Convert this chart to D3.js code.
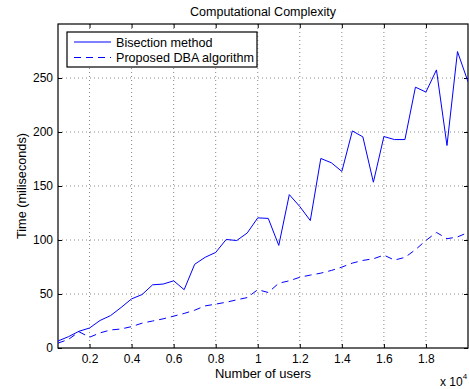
<!DOCTYPE html>
<html>
<head>
<meta charset="utf-8">
<script src="https://cdn.jsdelivr.net/npm/d3@7"></script>
<style>
  body { margin: 0; background: #fff; }
  text { font-family: "Liberation Sans", Arial, sans-serif; fill: #000; }
</style>
</head>
<body>
<script>
// number of users (x values)
var users = [500, 1000, 1500, 2000, 2500, 3000, 3500, 4000, 4500, 5000,
             5500, 6000, 6500, 7000, 7500, 8000, 8500, 9000, 9500, 10000,
             10500, 11000, 11500, 12000, 12500, 13000, 13500, 14000, 14500, 15000,
             15500, 16000, 16500, 17000, 17500, 18000, 18500, 19000, 19500, 20000];

// time in milliseconds
var bisection = [6.5, 10.5, 15.5, 18.5, 25.5, 30, 37.5, 45.5, 49.5, 58.5,
                 59.2, 62.2, 54, 77.5, 84, 88.5, 100.5, 99.5, 106.5, 120.5,
                 120, 95, 142, 131, 118, 175.5, 171.5, 163.5, 201, 195.5,
                 153.5, 195.8, 193, 193, 241.5, 237, 257.5, 187.5, 274.5, 246.5];

var dba = [4.5, 8, 15, 10, 14, 16.7, 17.6, 19.8, 23, 25,
           27, 29.5, 32, 35, 39, 40.6, 42.4, 44.6, 46.7, 54,
           51.4, 60, 62.2, 65.5, 67.5, 69.3, 71.8, 74.9, 78.6, 81.1,
           82.6, 86, 81.4, 83.9, 91, 99.6, 107, 101.2, 102.8, 107];

var xTicks = [2000, 4000, 6000, 8000, 10000, 12000, 14000, 16000, 18000];
var yTicks = [0, 50, 100, 150, 200, 250];

var seriesNames = ["Bisection method", "Proposed DBA algorithm"];

var W = 469, H = 389;
var margin = {top: 24, right: 1, bottom: 41, left: 58},
    width = W - margin.left - margin.right,
    height = H - margin.top - margin.bottom;

var svg = d3.select("body").append("svg")
    .attr("width", W)
    .attr("height", H);

var x = d3.scaleLinear().domain([500, 20000]).range([0, width]),
    y = d3.scaleLinear().domain([0, 300]).range([height, 0]);

var g = svg.append("g")
    .attr("transform", "translate(" + margin.left + "," + margin.top + ")");

// dotted grid
g.selectAll(".gx").data(xTicks).enter().append("line")
    .attr("x1", d => x(d)).attr("x2", d => x(d))
    .attr("y1", 0).attr("y2", height)
    .attr("stroke", "#888").attr("stroke-width", 1)
    .attr("stroke-dasharray", "1,3");

g.selectAll(".gy").data(yTicks.slice(1)).enter().append("line")
    .attr("y1", d => y(d)).attr("y2", d => y(d))
    .attr("x1", 0).attr("x2", width)
    .attr("stroke", "#888").attr("stroke-width", 1)
    .attr("stroke-dasharray", "1,3");

// axes (ticks point inward, box all round)
var fmtX = d => d3.format("")(d / 10000);

var axB = g.append("g").attr("transform", "translate(0," + height + ")")
    .call(d3.axisBottom(x).tickValues(xTicks).tickSizeInner(-4).tickSizeOuter(0).tickPadding(6).tickFormat(fmtX));
var axL = g.append("g")
    .call(d3.axisLeft(y).tickValues(yTicks).tickSizeInner(-4).tickSizeOuter(0).tickPadding(5));
var axT = g.append("g")
    .call(d3.axisTop(x).tickValues(xTicks).tickSizeInner(-4).tickSizeOuter(0).tickFormat(""));
var axR = g.append("g").attr("transform", "translate(" + width + ",0)")
    .call(d3.axisRight(y).tickValues(yTicks).tickSizeInner(-4).tickSizeOuter(0).tickFormat(""));

[axB, axL, axT, axR].forEach(function(a) {
  a.select(".domain").remove();
  a.selectAll("line").attr("stroke", "#000");
  a.selectAll("text").style("font-size", "12px").style("font-family", "'Liberation Sans', Arial, sans-serif").attr("fill", "#000");
});

g.append("rect")
    .attr("x", 0).attr("y", 0).attr("width", width).attr("height", height)
    .attr("fill", "none").attr("stroke", "#000").attr("stroke-width", 1.2);

// lines
var line = d3.line()
    .x(function(d, i) { return x(users[i]); })
    .y(function(d) { return y(d); });

var clip = g.append("clipPath").attr("id", "clip")
    .append("rect").attr("width", width).attr("height", height);

g.append("path").datum(bisection)
    .attr("clip-path", "url(#clip)")
    .attr("fill", "none").attr("stroke", "#0000ff").attr("stroke-width", 1)
    .attr("d", line);

g.append("path").datum(dba)
    .attr("clip-path", "url(#clip)")
    .attr("fill", "none").attr("stroke", "#0000ff").attr("stroke-width", 1)
    .attr("stroke-dasharray", "7,5")
    .attr("d", line);

// legend
var leg = svg.append("g").attr("transform", "translate(67,32)");
leg.append("rect")
    .attr("width", 190).attr("height", 35)
    .attr("fill", "#fff").attr("stroke", "#000").attr("stroke-width", 1.2);

seriesNames.forEach(function(name, i) {
  var yy = 10 + i * 15.5;
  leg.append("line")
      .attr("x1", 7).attr("x2", 44).attr("y1", yy).attr("y2", yy)
      .attr("stroke", "#0000ff").attr("stroke-width", 1)
      .attr("stroke-dasharray", i === 1 ? "7,5" : null);
  leg.append("text")
      .attr("x", 49).attr("y", yy + 4.5)
      .style("font-size", "12.6px")
      .text(name);
});

// titles
svg.append("text")
    .attr("x", margin.left + width / 2).attr("y", 15.5)
    .style("text-anchor", "middle").style("font-size", "12.5px")
    .text("Computational Complexity");

svg.append("text")
    .attr("x", margin.left + width / 2).attr("y", 377.5)
    .style("text-anchor", "middle").style("font-size", "13px")
    .text("Number of users");

svg.append("text")
    .attr("transform", "translate(26," + (margin.top + height / 2) + ") rotate(-90)")
    .style("text-anchor", "middle").style("font-size", "12.7px")
    .text("Time (miliseconds)");

// x 10^4 exponent label
var ex = svg.append("text").attr("x", 440).attr("y", 385.5).style("font-size", "12px");
ex.append("tspan").text("x 10");
ex.append("tspan").attr("dy", -7).style("font-size", "8px").text("4");
</script>
</body>
</html>
